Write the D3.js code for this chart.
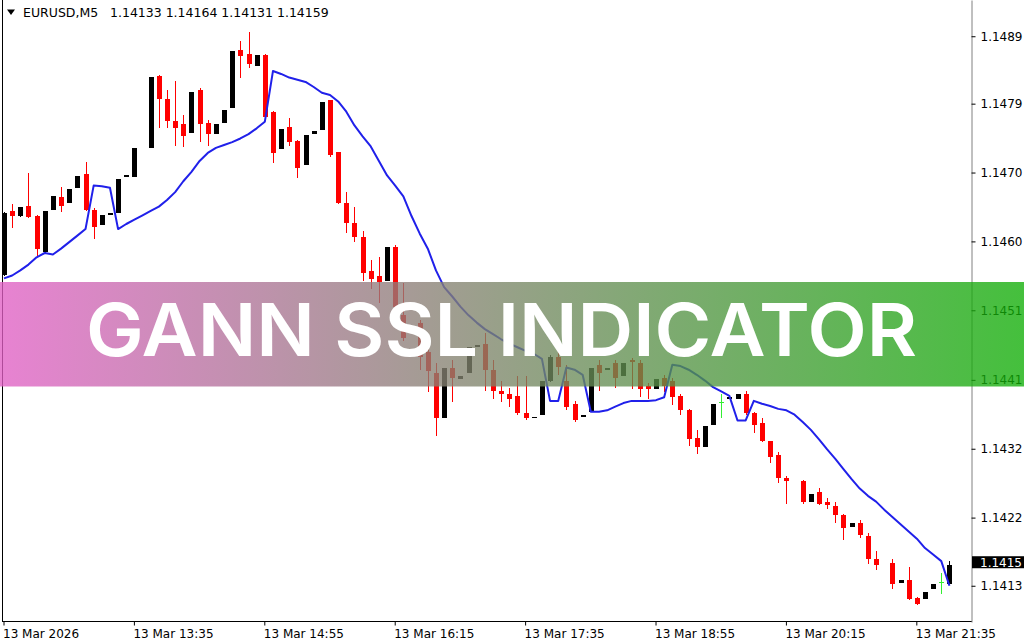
<!DOCTYPE html>
<html><head><meta charset="utf-8">
<script src="https://cdn.jsdelivr.net/npm/d3@7"></script>
<style>html,body{margin:0;padding:0;background:#fff;}svg{display:block;}</style>
</head><body>
<svg id="chart" width="1024" height="640"></svg>
<script>
const times = [
"12:15","12:20","12:25","12:30","12:35","12:40","12:45","12:50","12:55",
"13:00","13:05","13:10","13:15","13:20","13:25","13:30","13:35","13:40","13:45","13:50","13:55",
"14:00","14:05","14:10","14:15","14:20","14:25","14:30","14:35","14:40","14:45","14:50","14:55",
"15:00","15:05","15:10","15:15","15:20","15:25","15:30","15:35","15:40","15:45","15:50","15:55",
"16:00","16:05","16:10","16:15","16:20","16:25","16:30","16:35","16:40","16:45","16:50","16:55",
"17:00","17:05","17:10","17:15","17:20","17:25","17:30","17:35","17:40","17:45","17:50","17:55",
"18:00","18:05","18:10","18:15","18:20","18:25","18:30","18:35","18:40","18:45","18:50","18:55",
"19:00","19:05","19:10","19:15","19:20","19:25","19:30","19:35","19:40","19:45","19:50","19:55",
"20:00","20:05","20:10","20:15","20:20","20:25","20:30","20:35","20:40","20:45","20:50","20:55",
"21:00","21:05","21:10","21:15","21:20","21:25","21:30","21:35","21:40","21:45","21:50","21:55"];

const open = [
1.14558,1.14647,1.14640,1.14654,1.14640,1.14590,1.14649,1.14666,1.14658,1.14678,
1.14698,1.14648,1.14627,1.14643,1.14644,1.14695,1.14694,null,1.14734,1.14833,
1.14801,1.14771,1.14767,1.14754,1.14814,1.14769,1.14753,1.14769,1.14789,1.14869,
1.14863,1.14847,1.14862,1.14783,1.14732,1.14763,1.14743,1.14710,1.14753,1.14758,
1.14800,1.14728,1.14658,1.14631,1.14611,1.14564,1.14557,1.14551,1.14597,1.14503,
1.14487,1.14492,1.14452,1.14424,1.14362,1.14430,1.14415,1.14423,1.14461,1.14464,
1.14427,1.14399,1.14394,1.14392,1.14368,1.14361,1.14365,1.14413,1.14445,1.14413,
1.14381,1.14363,1.14369,1.14434,1.14428,1.14437,1.14420,1.14442,1.14437,1.14406,
1.14401,1.14417,1.14413,1.14392,1.14373,1.14334,1.14321,1.14352,1.14383,1.14387,
1.14388,1.14395,1.14368,1.14354,1.14329,1.14311,1.14279,null,1.14274,1.14246,
1.14260,1.14246,1.14240,1.14228,1.14211,1.14217,1.14199,1.14167,null,1.14162,
1.14134,1.14138,1.14113,1.14112,1.14125,1.14135,1.14133];

const high = [
1.14645,1.14656,1.14653,1.14700,1.14642,1.14647,1.14667,1.14680,1.14677,1.14695,
1.14714,1.14651,1.14642,1.14644,1.14691,1.14696,1.14734,null,1.14832,1.14834,
1.14814,1.14826,1.14779,1.14811,1.14816,1.14772,1.14767,1.14786,1.14868,1.14881,
1.14894,1.14862,1.14863,1.14785,1.14760,1.14775,1.14745,1.14752,1.14757,1.14797,
1.14800,1.14728,1.14673,1.14652,1.14619,1.14580,1.14584,1.14597,1.14600,1.14547,
1.14488,1.14496,1.14457,1.14437,1.14430,1.14441,1.14420,1.14459,1.14462,1.14478,
1.14441,1.14413,1.14403,1.14420,1.14420,1.14363,1.14413,1.14448,1.14452,1.14434,
1.14385,1.14365,1.14431,1.14441,1.14430,1.14441,1.14437,1.14444,1.14441,1.14409,
1.14415,1.14421,1.14416,1.14394,1.14374,1.14345,1.14351,1.14381,1.14395,1.14390,
1.14394,1.14399,1.14369,1.14362,1.14330,1.14314,1.14281,null,1.14276,1.14257,
1.14265,1.14251,1.14245,1.14229,1.14216,1.14221,1.14203,1.14178,null,1.14167,
1.14138,1.14156,1.14115,1.14122,1.14133,1.14147,1.14164];

const low = [
1.14557,1.14623,1.14638,1.14637,1.14584,1.14589,1.14649,1.14645,1.14658,1.14678,
1.14647,1.14609,1.14627,1.14643,1.14644,1.14695,1.14694,null,1.14734,1.14761,
1.14761,1.14736,1.14735,1.14754,1.14742,1.14736,1.14753,1.14769,1.14789,1.14830,
1.14844,1.14847,1.14775,1.14713,1.14732,1.14736,1.14692,1.14710,1.14753,1.14758,
1.14722,1.14656,1.14616,1.14604,1.14551,1.14539,1.14520,1.14551,1.14492,1.14468,
1.14487,1.14427,1.14397,1.14337,1.14362,1.14383,1.14415,1.14423,1.14461,1.14399,
1.14388,1.14383,1.14376,1.14366,1.14358,1.14361,1.14365,1.14411,1.14421,1.14373,
1.14356,1.14363,1.14369,1.14399,1.14428,1.14403,1.14420,1.14402,1.14390,1.14388,
1.14401,1.14397,1.14379,1.14366,1.14323,1.14312,1.14321,1.14352,1.14362,1.14387,
1.14388,1.14366,1.14341,1.14328,1.14300,1.14272,1.14243,null,1.14243,1.14246,
1.14242,1.14236,1.14217,1.14193,1.14211,1.14196,1.14160,1.14152,null,1.14126,
1.14134,1.14111,1.14104,1.14112,1.14125,1.14119,1.14131];

const close = [
1.14644,1.14640,1.14652,1.14638,1.14594,1.14647,1.14667,1.14654,1.14677,1.14695,
1.14648,1.14625,1.14642,1.14644,1.14691,1.14696,1.14734,null,1.14832,1.14801,
1.14771,1.14761,1.14750,1.14811,1.14767,1.14753,1.14767,1.14786,1.14868,1.14861,
1.14850,1.14862,1.14776,1.14727,1.14760,1.14742,1.14706,1.14752,1.14757,1.14797,
1.14724,1.14658,1.14630,1.14611,1.14561,1.14553,1.14549,1.14597,1.14514,1.14472,
1.14488,1.14446,1.14426,1.14361,1.14430,1.14417,1.14420,1.14459,1.14462,1.14427,
1.14399,1.14395,1.14388,1.14368,1.14361,1.14363,1.14413,1.14446,1.14432,1.14376,
1.14358,1.14365,1.14431,1.14423,1.14430,1.14417,1.14437,1.14438,1.14402,1.14402,
1.14415,1.14405,1.14390,1.14372,1.14333,1.14321,1.14351,1.14381,1.14383,1.14390,
1.14394,1.14368,1.14352,1.14329,1.14308,1.14279,1.14275,null,1.14245,1.14257,
1.14243,1.14242,1.14228,1.14209,1.14216,1.14200,1.14167,1.14158,null,1.14133,
1.14138,1.14112,1.14105,1.14122,1.14133,1.14135,1.14159];

const ssl = [
1.14554,1.14558,1.14565,1.14573,1.14583,1.14589,1.14587,1.14595,1.14604,1.14613,
1.14622,1.14682,1.14681,1.14679,1.14622,1.14629,1.14635,1.14641,1.14647,1.14653,
1.14662,1.14673,1.14688,1.14701,1.14716,1.14727,1.14734,1.14738,1.14742,1.14747,
1.14753,1.14761,1.14770,1.14840,1.14836,1.14831,1.14828,1.14825,1.14818,1.14810,
1.14807,1.14798,1.14784,1.14765,1.14750,1.14736,1.14716,1.14696,1.14682,1.14667,
1.14640,1.14616,1.14595,1.14565,1.14542,1.14529,1.14515,1.14503,1.14493,1.14484,
1.14477,1.14470,1.14464,1.14459,1.14454,1.14450,1.14443,1.14385,1.14385,1.14431,
1.14428,1.14421,1.14370,1.14370,1.14372,1.14377,1.14382,1.14385,1.14385,1.14385,
1.14386,1.14390,1.14435,1.14433,1.14428,1.14421,1.14413,1.14404,1.14398,1.14392,
1.14358,1.14358,1.14385,1.14381,1.14378,1.14374,1.14372,1.14366,1.14356,1.14345,
1.14332,1.14318,1.14305,1.14291,1.14277,1.14264,1.14254,1.14246,1.14235,1.14225,
1.14215,1.14205,1.14195,1.14182,1.14173,1.14164,1.14130];

const yTickValues = [1.14888,1.14795,1.14700,1.14605,1.14510,1.14414,1.14319,1.14224,1.14130];
const yTickLabels = ["1.1489","1.1479","1.1470","1.1460","1.1451","1.1441","1.1432","1.1422","1.1413"];
const xTickTimes = ["12:15","13:35","14:55","16:15","17:35","18:55","20:15","21:35"];
const xTickLabels = ["13 Mar 2026","13 Mar 13:35","13 Mar 14:55","13 Mar 16:15","13 Mar 17:35","13 Mar 18:55","13 Mar 20:15","13 Mar 21:35"];
const symbolText = "EURUSD,M5";
const ohlcText = "1.14133 1.14164 1.14131 1.14159";
const lastPriceLabel = "1.1415";
const bannerTitle = "GANN SSL INDICATOR";

const svg = d3.select("#chart");
const FONT = "DejaVu Sans";
const x = d3.scaleBand().domain(times).range([-0.075, 953.5]).padding(0);
const y = d3.scaleLinear().domain([1.1408, 1.14938]).range([622, 0]);
const cx = t => x(t) + x.bandwidth() / 2;

// frame
svg.append("line").attr("x1", 2.5).attr("x2", 2.5).attr("y1", 0).attr("y2", 622).attr("stroke", "#000");
svg.append("line").attr("x1", 2).attr("x2", 972).attr("y1", 621.5).attr("y2", 621.5).attr("stroke", "#000");

// candles
const bars = times.map((t, i) => ({t, o: open[i], h: high[i], l: low[i], c: close[i]})).filter(d => d.o != null);
const gC = svg.append("g").attr("shape-rendering", "crispEdges");
bars.forEach(d => {
  const xc = Math.round(cx(d.t));
  const doji = d.o === d.c;
  const bull = d.c > d.o;
  const col = doji ? "#33ee33" : (bull ? "#000000" : "#ff0000");
  gC.append("line").attr("x1", xc + 0.5).attr("x2", xc + 0.5)
    .attr("y1", y(d.h)).attr("y2", y(d.l)).attr("stroke", col);
  if (doji) {
    gC.append("line").attr("x1", xc - 2).attr("x2", xc + 3)
      .attr("y1", Math.round(y(d.o)) + 0.5).attr("y2", Math.round(y(d.o)) + 0.5).attr("stroke", col);
  } else {
    const y0 = y(Math.max(d.o, d.c)), y1 = y(Math.min(d.o, d.c));
    gC.append("rect").attr("x", xc - 2).attr("width", 5)
      .attr("y", y0).attr("height", Math.max(1.5, y1 - y0)).attr("fill", col);
  }
});

// SSL line
svg.append("path").datum(ssl)
  .attr("d", d3.line().x((d, i) => cx(times[i])).y(d => y(d)))
  .attr("fill", "none").attr("stroke", "#2020ea").attr("stroke-width", 2).attr("stroke-linejoin", "round");

// right axis
const gy = svg.append("g").attr("transform", "translate(971.5,0)")
  .call(d3.axisRight(y).tickValues(yTickValues).tickFormat((d, i) => yTickLabels[i]).tickSize(4).tickSizeOuter(0).tickPadding(5));
gy.attr("font-family", FONT).attr("font-size", 12);
gy.select(".domain").attr("stroke", "#808080");
gy.selectAll(".tick line").attr("stroke", "#000");
gy.selectAll(".tick text").attr("fill", "#000");

// bottom axis
const gx = svg.append("g").attr("transform", "translate(0,621.5)")
  .call(d3.axisBottom(x).tickValues(xTickTimes).tickFormat((d, i) => xTickLabels[i]).tickSize(4).tickSizeOuter(0));
gx.attr("font-family", FONT).attr("font-size", 12);
gx.select(".domain").remove();
gx.selectAll(".tick line").attr("stroke", "#000");
gx.selectAll(".tick text").attr("fill", "#000").attr("text-anchor", "start").attr("x", -1).attr("y", 8);

// last price label
const yc = y(close[close.length - 1]);
svg.append("rect").attr("x", 972).attr("y", yc - 8.5).attr("width", 52).attr("height", 12).attr("fill", "#000");
svg.append("text").attr("x", 980).attr("y", yc + 2).attr("font-family", FONT).attr("font-size", 12)
  .attr("fill", "#fff").text(lastPriceLabel);

// header
svg.append("path").attr("d", "M7,9.5 L15,9.5 L11,15 Z").attr("fill", "#000");
svg.append("text").attr("x", 23).attr("y", 16.5).attr("font-family", FONT).attr("font-size", 12.5).attr("fill", "#000").text(symbolText);
svg.append("text").attr("x", 110).attr("y", 16.5).attr("font-family", FONT).attr("font-size", 12.5).attr("fill", "#000").text(ohlcText);

// banner
const defs = svg.append("defs");
const grad = defs.append("linearGradient").attr("id", "bannerGrad").attr("x1", "0").attr("x2", "1").attr("y1", "0").attr("y2", "0");
grad.append("stop").attr("offset", "0").attr("stop-color", "#e15fc5");
grad.append("stop").attr("offset", "1").attr("stop-color", "#10ae06");
svg.append("rect").attr("x", 0).attr("y", 282).attr("width", 1024).attr("height", 104.5)
  .attr("fill", "url(#bannerGrad)").attr("fill-opacity", 0.78);
svg.append("text").attr("x", 86).attr("y", 356).attr("font-family", "Inter").attr("font-weight", 600)
  .attr("font-size", 73).attr("fill", "#fff").attr("textLength", 831).attr("lengthAdjust", "spacingAndGlyphs")
  .text(bannerTitle);
</script>
</body></html>
